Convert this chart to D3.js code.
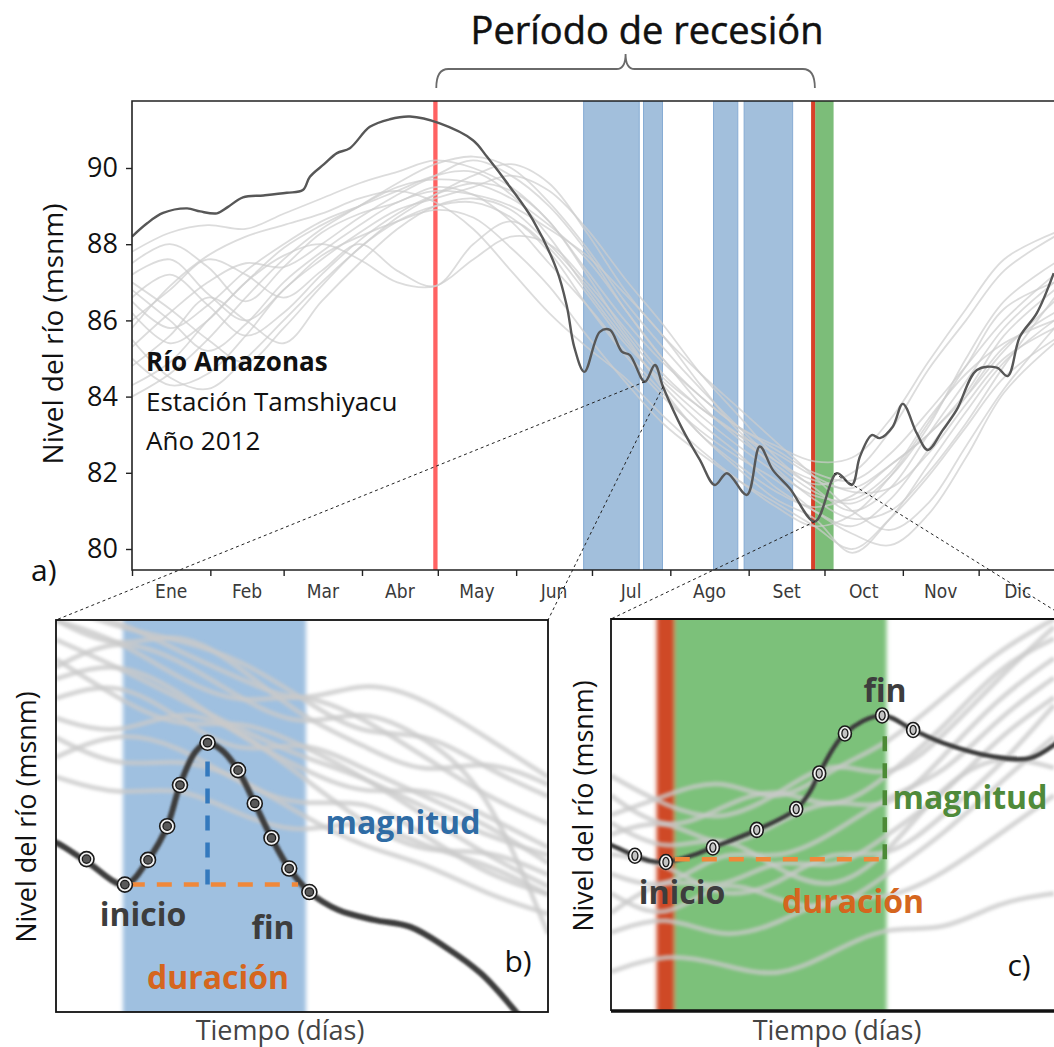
<!DOCTYPE html>
<html>
<head>
<meta charset="utf-8">
<script src="https://d3js.org/d3.v7.min.js"></script>
<style>
  body { margin: 0; background: #fff; }
  svg { display: block; font-family: "Open Sans", "DejaVu Sans", sans-serif; }
</style>
</head>
<body>
<svg id="chart" width="1054" height="1047"></svg>
<script>
// ---------------- panel a data ----------------
let monthLabels = ['Ene', 'Feb', 'Mar', 'Abr', 'May', 'Jun', 'Jul', 'Ago', 'Set', 'Oct', 'Nov', 'Dic'];
let yTicks = [80, 82, 84, 86, 88, 90];

// 2012 water level: [day of year, level in msnm]
let year2012 = [[0, 88.20], [6, 88.55], [12.3, 88.82], [21.8, 88.94], [27, 88.86], [33.6, 88.81], [38, 88.98], [43.9, 89.23], [52, 89.28], [61.3, 89.35], [67.6, 89.42],
  [70.4, 89.77], [76, 90.10], [81.1, 90.39], [86.2, 90.52], [94.1, 91.08], [102, 91.28], [110, 91.35], [121.8, 91.17], [134.9, 90.73],
  [140.4, 90.30], [149.5, 89.51], [158.6, 88.64], [168.1, 87.32], [172.1, 86.36], [175, 85.30], [179, 84.65],
  [185.1, 85.70], [189.1, 85.75], [193.8, 85.18], [197, 85.09], [202.9, 84.39], [206.9, 84.83], [210.1, 84.26],
  [218, 83.12], [224.7, 82.34], [230.6, 81.68], [235.4, 81.99], [243.3, 81.42], [248.4, 82.69], [253.6, 82.07],
  [260.3, 81.59], [270.2, 80.72], [278.9, 81.99], [284.8, 81.68], [288, 82.42], [292.7, 82.99], [295.9, 82.91],
  [301, 83.21], [305, 83.81], [310.5, 83.04], [314.9, 82.60], [320.8, 83.12], [326.3, 83.65], [334.3, 84.70],
  [342.2, 84.76], [346.5, 84.54], [351.3, 85.57], [358, 86.19], [364.7, 87.24]];

// other years, sampled on the same days
let greyDays = [0, 15, 30, 45, 60, 75, 90, 105, 120, 135, 150, 165, 180, 195, 210, 225, 240, 255, 270, 285, 300, 315, 330, 345, 365];
let greyYears = [
  [87.8, 88.3, 88.5, 88.4, 88.8, 89.2, 89.6, 89.9, 90.2, 90.0, 89.5, 88.6, 87.3, 86.0, 84.9, 84.0, 83.2, 82.6, 82.0, 81.8, 82.5, 83.6, 84.8, 86.0, 87.2],
  [86.5, 85.8, 86.4, 87.3, 88.0, 88.6, 89.0, 89.4, 89.8, 89.9, 89.3, 88.2, 86.8, 85.5, 84.3, 83.3, 82.5, 81.6, 81.0, 80.6, 81.3, 82.6, 84.0, 85.3, 86.2],
  [85.0, 84.3, 84.6, 85.6, 86.8, 87.6, 88.3, 88.9, 89.2, 89.5, 89.8, 89.4, 88.4, 87.1, 85.9, 84.6, 83.5, 82.4, 81.6, 81.0, 81.6, 83.0, 84.4, 85.8, 87.0],
  [87.2, 87.6, 86.7, 86.0, 86.8, 87.7, 88.2, 88.6, 88.9, 88.7, 87.9, 86.9, 85.6, 84.4, 83.3, 82.5, 81.8, 81.2, 80.6, 80.0, 80.8, 81.9, 83.2, 84.5, 85.5],
  [84.3, 84.9, 86.0, 87.0, 87.9, 88.5, 89.0, 89.5, 89.7, 89.6, 89.2, 88.5, 87.6, 86.3, 85.0, 83.8, 82.9, 82.2, 81.5, 81.2, 81.9, 83.2, 85.0, 86.5, 87.5],
  [86.0, 86.8, 87.6, 87.2, 86.6, 87.3, 88.0, 87.3, 86.9, 88.0, 88.6, 87.9, 86.7, 85.4, 84.4, 83.5, 82.7, 82.0, 81.4, 81.3, 82.0, 83.4, 84.6, 85.4, 86.0],
  [85.5, 84.5, 84.2, 85.0, 86.0, 87.0, 87.9, 88.7, 89.3, 89.8, 90.1, 89.6, 88.3, 86.8, 85.6, 84.6, 83.7, 82.8, 81.9, 81.0, 80.5, 81.2, 82.7, 84.2, 85.8],
  [87.5, 88.0, 87.4, 86.5, 87.4, 88.3, 88.8, 89.1, 89.5, 89.3, 88.6, 87.5, 86.4, 85.2, 84.1, 83.0, 82.2, 81.5, 81.1, 81.4, 82.2, 83.0, 84.0, 85.2, 86.5],
  [84.8, 85.6, 86.6, 86.0, 85.4, 86.5, 87.5, 88.4, 89.0, 89.2, 88.9, 88.0, 86.9, 85.6, 84.2, 83.0, 82.1, 81.3, 80.8, 79.9, 80.8, 82.2, 83.6, 84.9, 86.0],
  [86.8, 86.0, 85.2, 85.9, 87.0, 87.8, 88.5, 89.1, 89.4, 89.3, 89.0, 88.4, 87.7, 86.7, 85.6, 84.3, 83.1, 82.3, 81.7, 82.0, 83.1, 84.7, 86.0, 87.3, 88.2],
  [85.8, 86.9, 87.7, 88.2, 88.5, 88.8, 89.2, 89.4, 89.1, 88.4, 87.3, 86.2, 85.3, 84.5, 83.5, 82.6, 81.8, 81.1, 80.6, 80.9, 81.9, 83.3, 84.8, 86.3, 87.0],
  [84.0, 84.6, 85.5, 86.6, 87.6, 88.4, 89.0, 89.6, 90.1, 90.3, 90.0, 89.1, 87.9, 86.5, 85.3, 84.2, 83.2, 82.3, 81.8, 81.6, 82.2, 83.0, 84.1, 85.6, 86.8],
  [86.2, 85.4, 86.0, 87.0, 87.7, 88.0, 87.6, 87.0, 86.9, 87.6, 88.2, 88.0, 87.0, 85.8, 84.6, 83.7, 83.0, 82.5, 81.9, 81.5, 81.6, 82.5, 83.8, 85.0, 85.8],
  [87.0, 86.3, 85.5, 84.9, 85.8, 86.9, 87.9, 88.6, 89.0, 89.1, 88.7, 87.8, 86.4, 85.1, 84.0, 83.1, 82.4, 81.8, 81.0, 80.4, 80.1, 80.9, 82.4, 84.1, 85.4],
  [85.3, 86.2, 87.0, 87.5, 87.4, 88.0, 88.7, 89.3, 89.8, 90.2, 89.8, 89.0, 87.8, 86.3, 85.0, 84.0, 83.2, 82.7, 82.3, 82.4, 83.4, 84.9, 86.3, 87.6, 88.3],
  [86.6, 87.2, 86.4, 85.6, 86.2, 87.2, 88.1, 88.8, 89.3, 89.6, 89.4, 88.6, 87.2, 85.7, 84.5, 83.7, 83.0, 82.1, 81.3, 80.8, 81.0, 82.0, 83.3, 84.8, 86.6]
];

// event periods in day of year
let riseBands = [[178.7, 200.7], [202.4, 209.9], [230.1, 239.7], [242.2, 261.4]];
let greenBand = [270.3, 277.6];
let redMarks = [[119.2, 120.9], [268.7, 270.3]];
let recessionPeriod = [120, 270];

// dark-line points that the zoom panels come from: [day, level]
let zoomAnchors = [[202.9, 84.39], [210.1, 84.26], [270.2, 80.72], [277.8, 81.99]];

// ---------------- panels b and c (relative units 0-100) ----------------
let zoomX = [0, 12.5, 25, 37.5, 50, 62.5, 75, 87.5, 100];

let bGrey = [
  [95, 88, 80, 72, 65, 60, 52, 45, 40],
  [85, 90, 82, 70, 62, 55, 58, 50, 42],
  [75, 70, 78, 72, 60, 48, 40, 42, 35],
  [100, 95, 85, 78, 82, 75, 65, 55, 48],
  [65, 72, 68, 58, 52, 55, 45, 35, 30],
  [90, 80, 72, 75, 68, 60, 50, 40, 32],
  [104, 100, 92, 85, 78, 85, 80, 70, 60],
  [70, 62, 65, 60, 50, 42, 38, 30, 25],
  [104, 98, 95, 90, 80, 70, 72, 62, 55],
  [80, 85, 75, 65, 70, 62, 55, 48, 38],
  [60, 55, 58, 50, 45, 50, 42, 38, 30],
  [100, 92, 98, 88, 75, 68, 60, 65, 58],
  [88, 96, 90, 80, 72, 78, 70, 58, 20]
];
let bLine = [[-2, 44], [0.2, 43.1], [6.3, 38.3], [14.0, 32.5], [18.7, 38.8], [22.6, 47.4], [25.2, 57.9], [28.3, 66.3],
  [30.8, 68.7], [33.7, 66.8], [37.0, 61.7], [40.4, 53.2], [43.8, 44.4], [47.4, 36.6], [51.5, 30.6], [57.4, 26.0],
  [64.6, 23.5], [72.0, 21.7], [79.1, 16.6], [86.4, 9.8], [92.9, 0.9], [96.3, -4.6]];
let bPoints = [[6.2, 39.0], [14.0, 32.5], [18.7, 38.8], [22.6, 47.4], [25.2, 57.9], [30.8, 68.7], [37.0, 61.7],
  [40.4, 53.2], [43.8, 44.4], [47.4, 36.6], [51.5, 30.6]];
let bBand = [13.6, 50.8];
let bDuration = [[15.0, 32.5], [49.2, 32.5]];
let bMagnitude = [[30.8, 32.5], [30.8, 68.7]];

let cGrey = [
  [45, 50, 40, 48, 55, 50, 65, 80, 90],
  [35, 30, 42, 38, 45, 55, 60, 75, 85],
  [55, 45, 52, 58, 50, 60, 72, 88, 95],
  [25, 35, 30, 40, 35, 45, 55, 70, 80],
  [40, 38, 28, 32, 42, 38, 50, 62, 78],
  [20, 25, 18, 22, 30, 28, 35, 45, 55],
  [50, 55, 60, 52, 62, 68, 80, 92, 100],
  [30, 22, 35, 28, 25, 35, 45, 58, 70],
  [10, 15, 12, 8, 15, 22, 20, 28, 30],
  [60, 52, 48, 55, 65, 58, 70, 85, 98],
  [48, 40, 46, 36, 30, 40, 58, 66, 62]
];
let cLine = [[-2, 43], [0, 42.3], [5.4, 39.6], [8.8, 38.3], [12.4, 38.0], [17.8, 39.5], [23.0, 41.7], [32.9, 46.2],
  [41.8, 51.5], [44.9, 55.9], [47.0, 60.6], [52.8, 70.8], [61.2, 75.4], [68.2, 71.7], [74.9, 68.4], [86.2, 64.9],
  [94.6, 64.5], [100, 67.9], [102, 70]];
let cPoints = [[5.4, 39.6], [12.4, 38.0], [23.0, 41.7], [32.9, 46.2], [41.8, 51.5], [47.0, 60.6], [52.8, 70.8],
  [61.2, 75.4], [68.2, 71.7]];
let cRed = [10.3, 14.4];
let cGreen = [14.4, 62.2];
let cDuration = [[14.4, 38.7], [62.0, 38.7]];
let cMagnitude = [[61.8, 38.7], [61.8, 70.9]];

// ---------------- layout ----------------
let W = 1054;
let plotA = {left: 132, right: 1057, top: 101, bottom: 570};
let boxB = {left: 56, right: 548, top: 620, bottom: 1012};
let boxC = {left: 611, right: 1054, top: 619, bottom: 1011};

let svg = d3.select('#chart');
let defs = svg.append('defs');

defs.append('clipPath').attr('id', 'clipA')
  .append('rect').attr('x', plotA.left).attr('y', plotA.top)
  .attr('width', W - plotA.left).attr('height', plotA.bottom - plotA.top);
defs.append('clipPath').attr('id', 'clipB')
  .append('rect').attr('x', boxB.left).attr('y', boxB.top)
  .attr('width', boxB.right - boxB.left).attr('height', boxB.bottom - boxB.top);
defs.append('clipPath').attr('id', 'clipC')
  .append('rect').attr('x', boxC.left).attr('y', boxC.top)
  .attr('width', W - boxC.left).attr('height', boxC.bottom - boxC.top);

let addBlur = function (id, sd) {
  defs.append('filter').attr('id', id)
    .attr('x', '-10%').attr('y', '-10%').attr('width', '120%').attr('height', '120%')
    .append('feGaussianBlur').attr('stdDeviation', sd);
};
addBlur('blurSoft', 1.4);
addBlur('blurBand', 2.2);
addBlur('blurLine', 1.0);

// ---------------- panel a ----------------
let x = d3.scaleLinear().domain([0, 366]).range([plotA.left, plotA.right]);
let y = d3.scaleLinear().domain([80, 90]).range([549, 168]);

let yearStart = new Date(2012, 0, 1);
let monthStarts = d3.timeMonth.range(yearStart, new Date(2013, 0, 2))
  .map((m) => d3.timeDay.count(yearStart, m));

let gA = svg.append('g').attr('clip-path', 'url(#clipA)');

// shaded periods
gA.selectAll('.rise')
  .data(riseBands)
  .enter().append('rect')
  .attr('class', 'rise')
  .attr('x', (d) => x(d[0]))
  .attr('width', (d) => x(d[1]) - x(d[0]))
  .attr('y', plotA.top)
  .attr('height', plotA.bottom - plotA.top)
  .attr('fill', '#a2bfdc')
  .attr('stroke', '#86acd4')
  .attr('stroke-width', 1);

gA.append('rect')
  .attr('x', x(greenBand[0]))
  .attr('width', x(greenBand[1]) - x(greenBand[0]))
  .attr('y', plotA.top)
  .attr('height', plotA.bottom - plotA.top)
  .attr('fill', '#7cbd79');

let redColors = ['#ff6262', '#d8402a'];
gA.selectAll('.red')
  .data(redMarks)
  .enter().append('rect')
  .attr('class', 'red')
  .attr('x', (d) => x(d[0]))
  .attr('width', (d) => x(d[1]) - x(d[0]))
  .attr('y', plotA.top)
  .attr('height', plotA.bottom - plotA.top)
  .attr('fill', (d, i) => redColors[i]);

// other years
let greyLine = d3.line()
  .x((d, i) => x(greyDays[i]))
  .y((d) => y(d))
  .curve(d3.curveCatmullRom.alpha(0.5));

gA.selectAll('.grey')
  .data(greyYears)
  .enter().append('path')
  .attr('class', 'grey')
  .attr('d', greyLine)
  .attr('fill', 'none')
  .attr('stroke', '#cdcdcd')
  .attr('stroke-opacity', 0.7)
  .attr('stroke-width', 1.8);

// year 2012
let darkLine = d3.line()
  .x((d) => x(d[0]))
  .y((d) => y(d[1]))
  .curve(d3.curveCatmullRom.alpha(0.5));

gA.append('path')
  .datum(year2012)
  .attr('d', darkLine)
  .attr('fill', 'none')
  .attr('stroke', '#575757')
  .attr('stroke-width', 2.4);

// frame
svg.append('path')
  .attr('d', 'M' + W + ',' + plotA.top + 'H' + plotA.left + 'V' + plotA.bottom + 'H' + W)
  .attr('fill', 'none')
  .attr('stroke', '#222')
  .attr('stroke-width', 1.6);

// y axis
let yAxis = svg.append('g')
  .attr('transform', 'translate(' + plotA.left + ',0)')
  .call(d3.axisLeft(y).tickValues(yTicks).tickSize(6).tickPadding(8));
yAxis.select('.domain').remove();
yAxis.selectAll('line').attr('stroke', '#222').attr('stroke-width', 1.4);
yAxis.selectAll('text')
  .attr('font-family', '"Open Sans", sans-serif')
  .attr('font-size', 27)
  .attr('fill', '#111');

// x axis: month boundaries, labels in the middle of each month
let xAxis = svg.append('g')
  .attr('transform', 'translate(0,' + plotA.bottom + ')')
  .call(d3.axisBottom(x).tickValues(monthStarts.filter((d) => x(d) < W)).tickSize(6).tickFormat(''));
xAxis.select('.domain').remove();
xAxis.selectAll('line').attr('stroke', '#222').attr('stroke-width', 1.4);

svg.append('g')
  .selectAll('text')
  .data(monthLabels)
  .enter().append('text')
  .attr('x', (d, i) => x((monthStarts[i] + monthStarts[i + 1]) / 2))
  .attr('y', 598)
  .attr('text-anchor', 'middle')
  .attr('font-family', '"DejaVu Sans Condensed", "DejaVu Sans", sans-serif')
  .attr('font-stretch', 'condensed')
  .attr('font-size', 19)
  .attr('fill', '#3a3a3a')
  .text((d) => d);

svg.append('text')
  .attr('transform', 'translate(63,334) rotate(-90)')
  .attr('text-anchor', 'middle')
  .attr('font-size', 28)
  .attr('fill', '#111')
  .text('Nivel del río (msnm)');

let info = svg.append('g')
  .attr('font-size', 26)
  .attr('fill', '#111');
info.append('text').attr('x', 146).attr('y', 371).attr('font-weight', 'bold').text('Río Amazonas');
info.append('text').attr('x', 146).attr('y', 411).text('Estación Tamshiyacu');
info.append('text').attr('x', 146).attr('y', 450).text('Año 2012');

svg.append('text')
  .attr('x', 31)
  .attr('y', 581)
  .attr('font-size', 30)
  .attr('fill', '#111')
  .text('a)');

// title and brace over the recession period
let braceL = x(recessionPeriod[0]) + 1, braceR = x(recessionPeriod[1]) + 0.5;
let braceM = (braceL + braceR) / 2;
svg.append('path')
  .attr('d', 'M' + braceL + ',88 Q' + braceL + ',69 ' + (braceL + 12) + ',69 L' + (braceM - 9) + ',69 Q' + braceM + ',69 ' + braceM + ',54'
    + ' Q' + braceM + ',69 ' + (braceM + 9) + ',69 L' + (braceR - 12) + ',69 Q' + braceR + ',69 ' + braceR + ',88')
  .attr('fill', 'none')
  .attr('stroke', '#6a6a6a')
  .attr('stroke-width', 1.8);

svg.append('text')
  .attr('x', 647)
  .attr('y', 44)
  .attr('text-anchor', 'middle')
  .attr('font-size', 38)
  .attr('fill', '#111')
  .attr('stroke', '#111')
  .attr('stroke-width', 0.5)
  .text('Período de recesión');

// ---------------- zoom panels ----------------
let bx = d3.scaleLinear().domain([0, 100]).range([boxB.left, boxB.right]);
let by = d3.scaleLinear().domain([0, 100]).range([boxB.bottom, boxB.top]);
let cx = d3.scaleLinear().domain([0, 100]).range([boxC.left, boxC.right]);
let cy = d3.scaleLinear().domain([0, 100]).range([boxC.bottom, boxC.top]);

// connectors from panel a to the zoom panels
let connectorEnds = [[boxB.left, boxB.top], [boxB.right, boxB.top], [boxC.left, boxC.top], [1070, 620]];
svg.append('g')
  .selectAll('line')
  .data(zoomAnchors)
  .enter().append('line')
  .attr('x1', (d) => x(d[0]))
  .attr('y1', (d) => y(d[1]))
  .attr('x2', (d, i) => connectorEnds[i][0])
  .attr('y2', (d, i) => connectorEnds[i][1])
  .attr('stroke', '#222')
  .attr('stroke-width', 1)
  .attr('stroke-dasharray', '3,3');

let drawZoomPanel = function (opts) {
  let sx = opts.sx, sy = opts.sy;
  let g = svg.append('g');
  let inner = g.append('g').attr('clip-path', 'url(#' + opts.clip + ')');

  inner.append('rect')
    .attr('x', sx.range()[0]).attr('y', sy.range()[1])
    .attr('width', W).attr('height', sy.range()[0] - sy.range()[1])
    .attr('fill', '#fff');

  let bands = inner.append('g').attr('filter', 'url(#blurBand)');
  opts.bands.forEach((b) => {
    bands.append('rect')
      .attr('x', sx(b.range[0]))
      .attr('width', sx(b.range[1]) - sx(b.range[0]))
      .attr('y', sy(100) - 10)
      .attr('height', sy(0) - sy(100) + 20)
      .attr('fill', b.color);
  });

  let zLine = d3.line()
    .x((d, i) => sx(zoomX[i]))
    .y((d) => sy(d))
    .curve(d3.curveBasis);
  inner.append('g')
    .attr('filter', 'url(#blurSoft)')
    .selectAll('path')
    .data(opts.grey)
    .enter().append('path')
    .attr('d', zLine)
    .attr('fill', 'none')
    .attr('stroke', '#cacaca')
    .attr('stroke-opacity', 0.75)
    .attr('stroke-width', 5);

  let mainLine = d3.line()
    .x((d) => sx(d[0]))
    .y((d) => sy(d[1]))
    .curve(d3.curveCatmullRom.alpha(0.5));
  inner.append('path')
    .datum(opts.line)
    .attr('d', mainLine)
    .attr('fill', 'none')
    .attr('stroke', '#3c3c3c')
    .attr('stroke-width', opts.lineWidth)
    .attr('filter', 'url(#blurLine)');

  // dashed duration and magnitude
  inner.append('line')
    .attr('x1', sx(opts.duration[0][0])).attr('y1', sy(opts.duration[0][1]))
    .attr('x2', sx(opts.duration[1][0])).attr('y2', sy(opts.duration[1][1]))
    .attr('stroke', '#f0883a').attr('stroke-width', 4.5).attr('stroke-dasharray', '15,12');
  inner.append('line')
    .attr('x1', sx(opts.magnitude[0][0])).attr('y1', sy(opts.magnitude[0][1]))
    .attr('x2', sx(opts.magnitude[1][0])).attr('y2', sy(opts.magnitude[1][1]))
    .attr('stroke', opts.magColor).attr('stroke-width', 4.5).attr('stroke-dasharray', '15,12');

  let pts = inner.selectAll('.pt')
    .data(opts.points)
    .enter().append('g')
    .attr('class', 'pt')
    .attr('transform', (d) => 'translate(' + sx(d[0]) + ',' + sy(d[1]) + ')');
  pts.append('ellipse')
    .attr('rx', opts.ring[0]).attr('ry', opts.ring[1])
    .attr('fill', '#f2f2f2').attr('stroke', '#1a1a1a').attr('stroke-width', 1.6);
  pts.append('ellipse')
    .attr('rx', opts.dot[0]).attr('ry', opts.dot[1])
    .attr('fill', opts.dotFill).attr('stroke', '#1a1a1a').attr('stroke-width', 1.3);

  return g;
};

// panel b
let gB = drawZoomPanel({
  sx: bx, sy: by, clip: 'clipB',
  bands: [{range: bBand, color: '#9fc0e0'}],
  grey: bGrey, line: bLine, lineWidth: 6,
  duration: bDuration, magnitude: bMagnitude, magColor: '#3479bd',
  points: bPoints, ring: [7.5, 7.5], dot: [4.2, 4.2], dotFill: '#5a5a5a'
});
gB.append('rect')
  .attr('x', boxB.left).attr('y', boxB.top)
  .attr('width', boxB.right - boxB.left).attr('height', boxB.bottom - boxB.top)
  .attr('fill', 'none').attr('stroke', '#111').attr('stroke-width', 1.8);

// panel c
let gC = drawZoomPanel({
  sx: cx, sy: cy, clip: 'clipC',
  bands: [{range: cRed, color: '#cf4a28'}, {range: cGreen, color: '#7bc17a'}],
  grey: cGrey, line: cLine, lineWidth: 4.5,
  duration: cDuration, magnitude: cMagnitude, magColor: '#4c8a36',
  points: cPoints, ring: [6.5, 7.5], dot: [3, 4.6], dotFill: '#c4c4c4'
});
gC.append('path')
  .attr('d', 'M' + W + ',' + boxC.top + 'H' + boxC.left + 'V' + boxC.bottom)
  .attr('fill', 'none').attr('stroke', '#111').attr('stroke-width', 1.8);
gC.append('line')
  .attr('x1', boxC.left).attr('x2', W)
  .attr('y1', boxC.bottom).attr('y2', boxC.bottom)
  .attr('stroke', '#111').attr('stroke-width', 3.5);

// panel labels
let bold = function (g, txt, px, py, color) {
  g.append('text')
    .attr('x', px).attr('y', py)
    .attr('text-anchor', 'middle')
    .attr('font-size', 32)
    .attr('font-weight', 'bold')
    .attr('fill', color)
    .text(txt);
};
bold(gB, 'magnitud', 403, 834, '#2f6ca5');
bold(gB, 'inicio', 143, 926, '#3d3d3d');
bold(gB, 'fin', 273, 939, '#3d3d3d');
bold(gB, 'duración', 218, 989, '#d5661e');
bold(gC, 'fin', 885, 702, '#3d3d3d');
bold(gC, 'magnitud', 970, 809, '#4f8a3a');
bold(gC, 'inicio', 682, 904, '#3d3d3d');
bold(gC, 'duración', 853, 913, '#d5661e');

[[gB, 'b)', 518, 972], [gC, 'c)', 1019, 976]].forEach((d) => {
  d[0].append('text')
    .attr('x', d[2]).attr('y', d[3])
    .attr('text-anchor', 'middle')
    .attr('font-size', 30)
    .attr('fill', '#111')
    .text(d[1]);
});

[[26, 817], [583, 806]].forEach((p) => {
  svg.append('text')
    .attr('transform', 'translate(' + (p[0] + 10) + ',' + p[1] + ') rotate(-90)')
    .attr('text-anchor', 'middle')
    .attr('font-size', 27)
    .attr('fill', '#111')
    .text('Nivel del río (msnm)');
});

[280, 837].forEach((px) => {
  svg.append('text')
    .attr('x', px).attr('y', 1040)
    .attr('text-anchor', 'middle')
    .attr('font-size', 27)
    .attr('fill', '#444')
    .text('Tiempo (días)');
});
</script>
</body>
</html>
